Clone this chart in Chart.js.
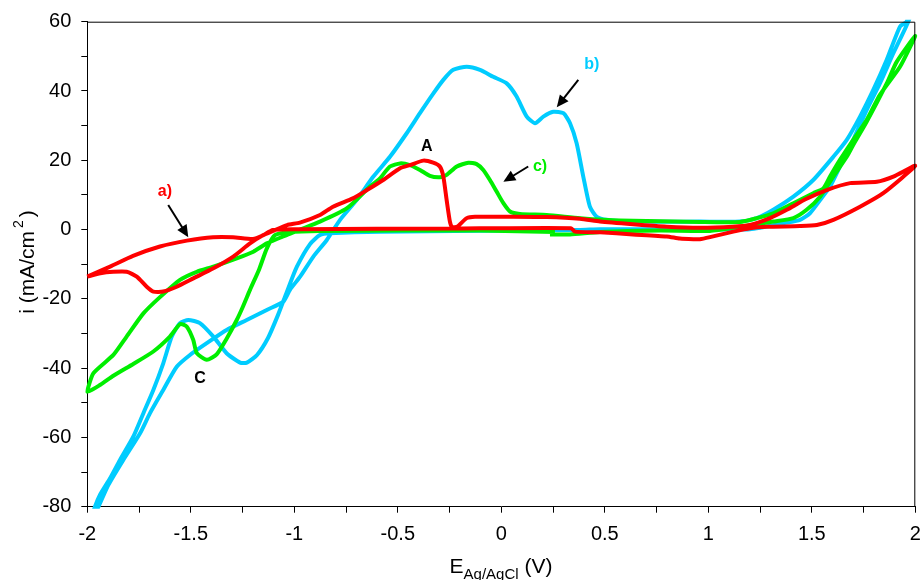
<!DOCTYPE html>
<html>
<head>
<meta charset="utf-8">
<script src="https://cdn.jsdelivr.net/npm/chart.js@4.4.1/dist/chart.umd.min.js"></script>
<style>
  html, body { margin: 0; padding: 0; background: #fff; }
</style>
</head>
<body>
<canvas id="cv" width="923" height="580"></canvas>
<script>
// voltammograms, E in V vs Ag/AgCl, i in mA/cm2 (points in scan order)

// a) red
const redE = [-2.0, -1.937, -1.874, -1.810, -1.761, -1.713, -1.681, -1.633, -1.568, -1.488, -1.391, -1.295, -1.214, -1.156, -1.103, -1.035,
  -0.973, -0.876, -0.813, -0.717, -0.649, -0.571, -0.489, -0.441, -0.377, -0.329, -0.297, -0.280, -0.264, -0.248, -0.238, -0.214,
  -0.167, -0.127, 0.057, 0.221, 0.380, 0.477, 0.636, 0.799, 0.960, 1.119, 1.201, 1.298, 1.379, 1.472, 1.572, 1.685, 1.814, 1.894, 2.0,
  1.845, 1.733, 1.604, 1.524, 1.443, 1.282, 1.201, 1.121, 1.008, 0.959, 0.928, 0.863, 0.799, 0.636, 0.477, 0.356, 0.337, -0.233,
  -0.973, -1.103, -1.156, -1.200, -1.296, -1.393, -1.519, -1.649, -1.779, -1.890, -2.0];
const redI = [-13.6, -12.6, -12.2, -12.2, -13.6, -16.5, -17.9, -17.9, -16.5, -14.1, -11.2, -7.8, -4.0, -1.8, -0.4, 1.3,
  2.0, 4.2, 6.6, 9.0, 11.4, 14.3, 17.7, 18.6, 19.9, 19.3, 18.2, 15.3, 8.5, 2.2, 0.8, 0.8,
  3.3, 3.7, 3.7, 3.6, 3.1, 2.3, 1.5, 0.8, 0.5, 0.8, 1.3, 3.3, 5.7, 8.8, 11.4, 13.4, 13.8, 15.3, 18.4,
  10.5, 6.6, 2.8, 1.3, 1.0, 0.8, 0.4, -0.6, -2.2, -2.8, -2.8, -2.6, -2.0, -1.4, -0.8, -0.6, 0.4, 0.3,
  0.1, -0.1, -1.8, -2.7, -2.2, -2.2, -3.2, -4.9, -7.6, -10.7, -13.6];

// b) cyan
const cyanE = [-1.98, -1.946, -1.898, -1.826, -1.745, -1.697, -1.633, -1.568, -1.504, -1.423, -1.327, -1.230, -1.133, -1.053, -1.021,
  -0.972, -0.908, -0.843, -0.779, -0.699, -0.618, -0.538, -0.457, -0.393, -0.328, -0.280, -0.232, -0.167, -0.103, -0.039, 0.026,
  0.074, 0.123, 0.163, 0.203, 0.251, 0.300, 0.332, 0.364, 0.396, 0.428, 0.461, 0.509, 0.636, 0.960, 1.153, 1.234, 1.314, 1.411,
  1.507, 1.604, 1.669, 1.733, 1.797, 1.862, 1.926, 1.958, 1.975,
  1.985, 1.966, 1.894, 1.829, 1.765, 1.700, 1.636, 1.588, 1.540, 1.491, 1.443, 1.379, 1.201, 0.960, 0.477, 0.380, -0.586, -0.828,
  -0.876, -0.924, -0.988, -1.036, -1.079, -1.127, -1.180, -1.229, -1.262, -1.327, -1.391, -1.456, -1.512, -1.552, -1.592, -1.633,
  -1.681, -1.729, -1.778, -1.842, -1.890, -1.939, -1.963, -1.995];
const cyanI = [-84, -80.0, -73.7, -66.5, -58.8, -53.0, -46.3, -39.6, -36.2, -32.8, -29.0, -26.1, -23.2, -20.8, -17.4,
  -13.6, -7.8, -3.0, 2.8, 8.5, 15.3, 21.0, 27.8, 33.6, 39.3, 43.2, 46.1, 47.0, 46.1, 44.1, 42.2,
  38.4, 32.6, 30.7, 32.6, 34.0, 33.6, 30.7, 24.9, 15.3, 6.6, 3.7, 2.8, 2.3, 2.3, 2.3, 3.3, 5.7, 9.5,
  14.3, 21.0, 25.9, 32.6, 40.3, 49.0, 58.6, 60.0, 64,
  64, 60, 50.9, 42.2, 34.5, 25.9, 18.2, 12.4, 8.5, 4.7, 2.8, 2.0, 0.1, 0.1, 0.1, -0.1, -0.6, -1.1,
  -1.6, -4.2, -10.8, -18.0, -24.7, -31.3, -36.2, -38.4, -38.4, -35.7, -30.9, -27.0, -26.1, -27.0, -30.9, -38.6,
  -46.3, -53.0, -59.8, -66.5, -71.8, -76.6, -80, -86];

// c) green
const greenE = [0.259, -0.103, -0.489, -0.876, -1.021, -1.094, -1.133, -1.170, -1.214, -1.250, -1.278, -1.327, -1.375, -1.423,
  -1.471, -1.488, -1.520, -1.552, -1.601, -1.681, -1.778, -1.874, -1.937, -2.0,
  -1.971, -1.874, -1.810, -1.729, -1.649, -1.552, -1.471, -1.391, -1.278, -1.198, -1.133, -1.037, -0.876, -0.747, -0.634, -0.586,
  -0.538, -0.489, -0.441, -0.393, -0.345, -0.296, -0.264, -0.215, -0.159, -0.119, -0.087, -0.055, -0.022, 0.010, 0.042, 0.090,
  0.219, 0.380, 0.574, 0.960, 1.153, 1.234, 1.314, 1.411, 1.507, 1.556, 1.588, 1.636, 1.700, 1.765, 1.829, 1.926, 2.0,
  1.910, 1.862, 1.765, 1.700, 1.669, 1.604, 1.540, 1.475, 1.411, 1.314, 1.153, 1.008, 0.767, 0.477, 0.332, 0.235];
const greenI = [-0.7, -0.3, -0.3, -0.4, -0.7, -1.6, -5.5, -11.5, -17.4, -22.5, -26.1, -31.5, -36.0, -37.6,
  -35.7, -31.9, -28.0, -27.3, -30.9, -35.2, -38.8, -42.2, -44.8, -46.8,
  -41.5, -36.2, -30.9, -24.2, -19.5, -14.5, -12.2, -10.7, -8.3, -6.4, -4.0, -1.6, 2.3, 6.1, 12.4, 14.8,
  18.2, 19.1, 18.6, 17.2, 15.5, 15.1, 15.8, 18.2, 19.3, 18.9, 17.2, 14.3, 10.9, 7.6, 5.2, 4.5,
  4.2, 3.3, 2.6, 2.2, 2.2, 3.3, 4.7, 7.6, 10.5, 11.9, 15.3, 20.1, 25.9, 31.6, 38.9, 47.0, 55.9,
  48.4, 42.2, 31.1, 24.4, 21.0, 15.3, 9.5, 5.7, 3.3, 2.3, 0.8, -0.4, -0.3, -0.7, -1.4, -1.4];

const xTickLabels = ['-2', '-1.5', '-1', '-0.5', '0', '0.5', '1', '1.5', '2'];
const yTickLabels = ['-80', '-60', '-40', '-20', '0', '20', '40', '60'];

const FONT = '"Liberation Sans", Arial, sans-serif';

function pts(xs, ys) {
  return xs.map((v, i) => ({ x: v, y: ys[i] }));
}

function tickText(list) {
  return function (value) {
    const hit = list.find(t => Math.abs(parseFloat(t) - value) < 1e-6);
    return hit === undefined ? '' : hit;
  };
}

// text marks and arrows, in data units
const notes = [
  { text: 'a)', x: -1.625, y: 10.9, color: '#ff0000' },
  { text: 'b)', x: 0.437, y: 47.5, color: '#00ccff' },
  { text: 'c)', x: 0.187, y: 18.2, color: '#00ee00' },
  { text: 'A', x: -0.36, y: 23.9, color: '#000' },
  { text: 'C', x: -1.456, y: -42.9, color: '#000' }
];
const arrows = [
  { from: [-1.609, 7.1], to: [-1.512, -2.2] },
  { from: [0.372, 43.2], to: [0.268, 35.3] },
  { from: [0.130, 18.2], to: [0.010, 13.8] }
];

const decor = {
  id: 'decor',
  afterDatasetsDraw(chart) {
    const { ctx, chartArea: a, scales } = chart;
    const sx = scales.x, sy = scales.y;
    ctx.save();
    // top and right frame
    ctx.strokeStyle = '#000';
    ctx.lineWidth = 1;
    ctx.beginPath();
    ctx.moveTo(a.left, a.top + 0.5);
    ctx.lineTo(a.right - 0.5, a.top + 0.5);
    ctx.lineTo(a.right - 0.5, a.bottom);
    ctx.stroke();

    ctx.fillStyle = '#000';
    arrows.forEach(ar => {
      const x1 = sx.getPixelForValue(ar.from[0]), y1 = sy.getPixelForValue(ar.from[1]);
      const x2 = sx.getPixelForValue(ar.to[0]), y2 = sy.getPixelForValue(ar.to[1]);
      const ang = Math.atan2(y2 - y1, x2 - x1);
      const len = 12, half = 5.5;
      ctx.lineWidth = 2;
      ctx.beginPath();
      ctx.moveTo(x1, y1);
      ctx.lineTo(x2 - Math.cos(ang) * len * 0.8, y2 - Math.sin(ang) * len * 0.8);
      ctx.stroke();
      ctx.beginPath();
      ctx.moveTo(x2, y2);
      ctx.lineTo(x2 - Math.cos(ang) * len - Math.sin(ang) * half, y2 - Math.sin(ang) * len + Math.cos(ang) * half);
      ctx.lineTo(x2 - Math.cos(ang) * len + Math.sin(ang) * half, y2 - Math.sin(ang) * len - Math.cos(ang) * half);
      ctx.closePath();
      ctx.fill();
    });

    ctx.font = 'bold 16px ' + FONT;
    ctx.textAlign = 'center';
    ctx.textBaseline = 'middle';
    notes.forEach(n => {
      ctx.fillStyle = n.color;
      ctx.fillText(n.text, sx.getPixelForValue(n.x), sy.getPixelForValue(n.y));
    });
    ctx.restore();
  },
  afterDraw(chart) {
    const ctx = chart.ctx;
    ctx.save();
    ctx.fillStyle = '#000';
    ctx.textAlign = 'left';
    ctx.textBaseline = 'alphabetic';

    // x title: E_Ag/AgCl (V)
    const big = '21px ' + FONT, small = '15px ' + FONT;
    ctx.font = big;
    const wE = ctx.measureText('E').width;
    const wV = ctx.measureText(' (V)').width;
    ctx.font = small;
    const wS = ctx.measureText('Ag/AgCl').width;
    let x0 = 501 - (wE + wS + wV) / 2;
    ctx.font = big;
    ctx.fillText('E', x0, 573);
    ctx.font = small;
    ctx.fillText('Ag/AgCl', x0 + wE, 579);
    ctx.font = big;
    ctx.fillText(' (V)', x0 + wE + wS, 573);

    // y title: i (mA/cm^2)
    ctx.translate(33.5, 262);
    ctx.rotate(-Math.PI / 2);
    ctx.font = big;
    const w1 = ctx.measureText('i (mA/cm').width;
    const w3 = ctx.measureText(')').width;
    ctx.font = '14px ' + FONT;
    const w2 = ctx.measureText('2').width;
    const gap = 3;
    let s = -(w1 + gap + w2 + gap + w3) / 2;
    ctx.font = big;
    ctx.fillText('i (mA/cm', s, 0);
    ctx.font = '14px ' + FONT;
    ctx.fillText('2', s + w1 + gap, -11);
    ctx.font = big;
    ctx.fillText(')', s + w1 + gap + w2 + gap, 0);
    ctx.restore();
  }
};

const line = (label, xs, ys, color) => ({
  label: label,
  data: pts(xs, ys),
  showLine: true,
  borderColor: color,
  backgroundColor: color,
  borderWidth: 4,
  pointRadius: 0,
  tension: 0.2,
  fill: false,
  clip: 2
});

new Chart(document.getElementById('cv'), {
  type: 'scatter',
  data: {
    datasets: [
      line('a)', redE, redI, '#ff0000'),
      line('c)', greenE, greenI, '#00ee00'),
      line('b)', cyanE, cyanI, '#00ccff')
    ]
  },
  options: {
    responsive: false,
    animation: false,
    layout: { padding: { top: 21.7, right: 7.7, left: 0, bottom: 0 } },
    plugins: {
      legend: { display: false },
      tooltip: { enabled: false }
    },
    scales: {
      x: {
        type: 'linear',
        min: -2, max: 2,
        afterFit: s => { s.height = 73.3; s.paddingLeft = 0; s.paddingRight = 0; },
        grid: { drawOnChartArea: false, drawTicks: true, tickLength: 6, color: '#000', lineWidth: 1 },
        border: { display: true, color: '#000', width: 1 },
        ticks: {
          stepSize: 0.25, autoSkip: false, maxRotation: 0, padding: 10,
          color: '#000', font: { family: FONT, size: 20 },
          callback: tickText(xTickLabels)
        }
      },
      y: {
        type: 'linear',
        min: -80, max: 60,
        afterFit: s => { s.width = 87.3; s.paddingTop = 0; s.paddingBottom = 0; },
        grid: { drawOnChartArea: false, drawTicks: true, tickLength: 6, color: '#000', lineWidth: 1 },
        border: { display: true, color: '#000', width: 1 },
        ticks: {
          stepSize: 10, autoSkip: false, padding: 10,
          color: '#000', font: { family: FONT, size: 20 },
          callback: tickText(yTickLabels)
        }
      }
    }
  },
  plugins: [decor]
});
</script>
</body>
</html>
